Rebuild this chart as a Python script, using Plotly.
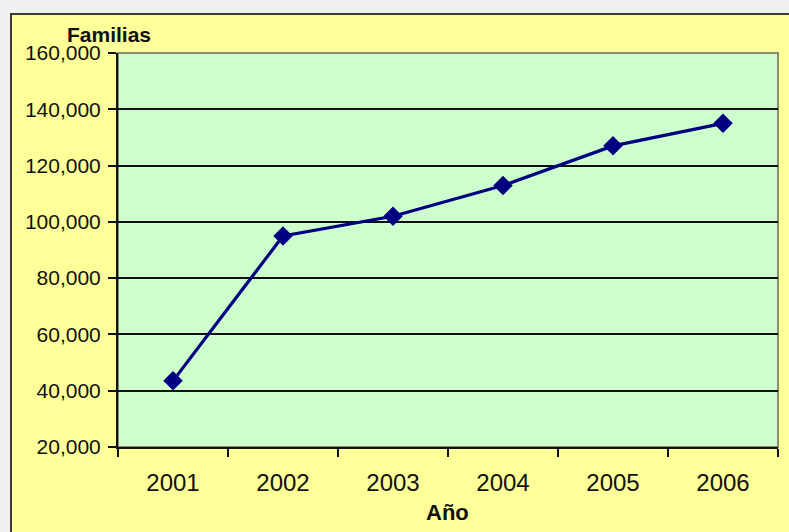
import plotly.graph_objects as go

years = ["2001", "2002", "2003", "2004", "2005", "2006"]
familias = [43500, 95000, 102000, 112900, 127000, 135000]
y_ticks = [20000, 40000, 60000, 80000, 100000, 120000, 140000, 160000]

W, H = 789, 532
ML, MR, MT, MB = 118, 11, 53, 85
PW, PH = W - ML - MR, H - MT - MB

def px_x(p):
    return (p - ML) / PW

def px_y(p):
    return (H - MB - p) / PH

fig = go.Figure()
fig.add_trace(go.Scatter(
    x=years, y=familias, mode="lines+markers",
    line=dict(color="#000080", width=3.2),
    marker=dict(symbol="diamond", size=15, color="#000080"),
    showlegend=False, cliponaxis=False,
))

shapes = [
    # yellow chart area with dark border
    dict(type="rect", xref="paper", yref="paper",
         x0=px_x(11), x1=px_x(W + 20), y0=px_y(H + 20), y1=px_y(14),
         fillcolor="#FFFF99", line=dict(color="#3a3a3a", width=2), layer="below"),
    # plot area
    dict(type="rect", xref="paper", yref="paper",
         x0=0, x1=1, y0=0, y1=1,
         fillcolor="#CCFFCC", line=dict(color="#8a8a70", width=2), layer="below"),
]

fig.update_layout(
    width=W, height=H,
    margin=dict(l=ML, r=MR, t=MT, b=MB),
    paper_bgcolor="#F0F0F0",
    plot_bgcolor="rgba(0,0,0,0)",
    font=dict(family="Liberation Sans, Arial", color="#111111"),
    shapes=shapes,
    annotations=[
        dict(text="<b>Familias</b>", xref="paper", yref="paper",
             x=px_x(109), y=px_y(35), xanchor="center", yanchor="middle",
             showarrow=False, font=dict(size=21, color="#111111")),
        dict(text="<b>Año</b>", xref="paper", yref="paper",
             x=px_x(447), y=px_y(512), xanchor="center", yanchor="middle",
             showarrow=False, font=dict(size=22, color="#111111")),
    ],
)

fig.update_xaxes(
    type="category", tickson="boundaries", ticks="outside", ticklen=8,
    tickwidth=2, tickcolor="#111111",
    showline=True, linecolor="#111111", linewidth=2,
    showgrid=False, tickfont=dict(size=24), ticklabelstandoff=13,
    range=[-0.5, 5.5],
)
fig.update_yaxes(
    range=[20000, 160000], tickvals=y_ticks, tickformat=",",
    ticks="outside", ticklen=8, tickwidth=2, tickcolor="#111111",
    showline=True, linecolor="#111111", linewidth=2,
    showgrid=True, gridcolor="#111111", gridwidth=1.6,
    zeroline=False, tickfont=dict(size=21), ticklabelstandoff=3,
)

fig.write_html("out.html", config={"displayModeBar": False},
               post_script="document.body.style.margin='0';document.body.style.overflow='hidden';")
